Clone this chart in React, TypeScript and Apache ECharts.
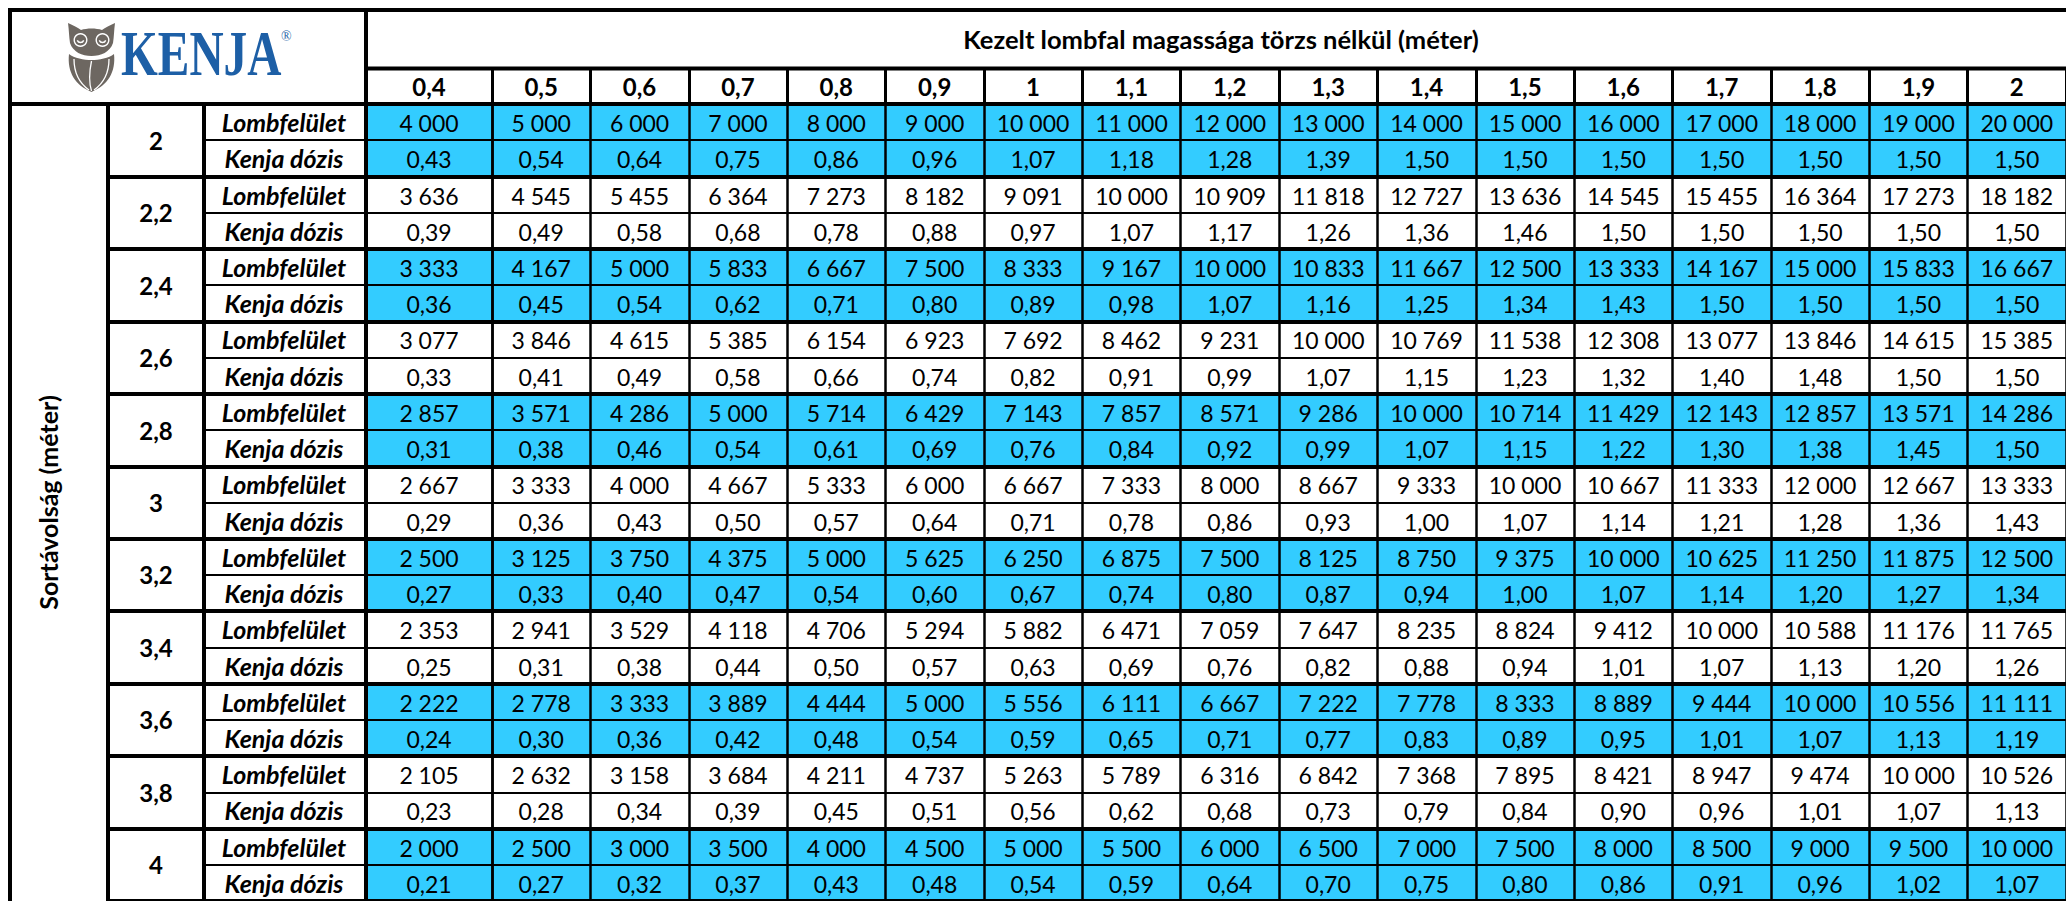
import React, { useEffect, useRef } from 'react';
import * as echarts from 'echarts';

// ---------- data ----------
const heightCategories = ['0,4', '0,5', '0,6', '0,7', '0,8', '0,9', '1', '1,1', '1,2', '1,3', '1,4', '1,5', '1,6', '1,7', '1,8', '1,9', '2'];
const rowSpacings = ['2', '2,2', '2,4', '2,6', '2,8', '3', '3,2', '3,4', '3,6', '3,8', '4'];
const rowLabels = ['Lombfelület', 'Kenja dózis'];
const titleText = 'Kezelt lombfal magassága törzs nélkül (méter)';
const sideTitle = 'Sortávolság (méter)';

const lombfelulet: number[][] = [
  [4000, 5000, 6000, 7000, 8000, 9000, 10000, 11000, 12000, 13000, 14000, 15000, 16000, 17000, 18000, 19000, 20000],
  [3636, 4545, 5455, 6364, 7273, 8182, 9091, 10000, 10909, 11818, 12727, 13636, 14545, 15455, 16364, 17273, 18182],
  [3333, 4167, 5000, 5833, 6667, 7500, 8333, 9167, 10000, 10833, 11667, 12500, 13333, 14167, 15000, 15833, 16667],
  [3077, 3846, 4615, 5385, 6154, 6923, 7692, 8462, 9231, 10000, 10769, 11538, 12308, 13077, 13846, 14615, 15385],
  [2857, 3571, 4286, 5000, 5714, 6429, 7143, 7857, 8571, 9286, 10000, 10714, 11429, 12143, 12857, 13571, 14286],
  [2667, 3333, 4000, 4667, 5333, 6000, 6667, 7333, 8000, 8667, 9333, 10000, 10667, 11333, 12000, 12667, 13333],
  [2500, 3125, 3750, 4375, 5000, 5625, 6250, 6875, 7500, 8125, 8750, 9375, 10000, 10625, 11250, 11875, 12500],
  [2353, 2941, 3529, 4118, 4706, 5294, 5882, 6471, 7059, 7647, 8235, 8824, 9412, 10000, 10588, 11176, 11765],
  [2222, 2778, 3333, 3889, 4444, 5000, 5556, 6111, 6667, 7222, 7778, 8333, 8889, 9444, 10000, 10556, 11111],
  [2105, 2632, 3158, 3684, 4211, 4737, 5263, 5789, 6316, 6842, 7368, 7895, 8421, 8947, 9474, 10000, 10526],
  [2000, 2500, 3000, 3500, 4000, 4500, 5000, 5500, 6000, 6500, 7000, 7500, 8000, 8500, 9000, 9500, 10000],
];

const kenjaDozis: number[][] = [
  [0.43, 0.54, 0.64, 0.75, 0.86, 0.96, 1.07, 1.18, 1.28, 1.39, 1.5, 1.5, 1.5, 1.5, 1.5, 1.5, 1.5],
  [0.39, 0.49, 0.58, 0.68, 0.78, 0.88, 0.97, 1.07, 1.17, 1.26, 1.36, 1.46, 1.5, 1.5, 1.5, 1.5, 1.5],
  [0.36, 0.45, 0.54, 0.62, 0.71, 0.8, 0.89, 0.98, 1.07, 1.16, 1.25, 1.34, 1.43, 1.5, 1.5, 1.5, 1.5],
  [0.33, 0.41, 0.49, 0.58, 0.66, 0.74, 0.82, 0.91, 0.99, 1.07, 1.15, 1.23, 1.32, 1.4, 1.48, 1.5, 1.5],
  [0.31, 0.38, 0.46, 0.54, 0.61, 0.69, 0.76, 0.84, 0.92, 0.99, 1.07, 1.15, 1.22, 1.3, 1.38, 1.45, 1.5],
  [0.29, 0.36, 0.43, 0.5, 0.57, 0.64, 0.71, 0.78, 0.86, 0.93, 1.0, 1.07, 1.14, 1.21, 1.28, 1.36, 1.43],
  [0.27, 0.33, 0.4, 0.47, 0.54, 0.6, 0.67, 0.74, 0.8, 0.87, 0.94, 1.0, 1.07, 1.14, 1.2, 1.27, 1.34],
  [0.25, 0.31, 0.38, 0.44, 0.5, 0.57, 0.63, 0.69, 0.76, 0.82, 0.88, 0.94, 1.01, 1.07, 1.13, 1.2, 1.26],
  [0.24, 0.3, 0.36, 0.42, 0.48, 0.54, 0.59, 0.65, 0.71, 0.77, 0.83, 0.89, 0.95, 1.01, 1.07, 1.13, 1.19],
  [0.23, 0.28, 0.34, 0.39, 0.45, 0.51, 0.56, 0.62, 0.68, 0.73, 0.79, 0.84, 0.9, 0.96, 1.01, 1.07, 1.13],
  [0.21, 0.27, 0.32, 0.37, 0.43, 0.48, 0.54, 0.59, 0.64, 0.7, 0.75, 0.8, 0.86, 0.91, 0.96, 1.02, 1.07],
];

// ---------- styles ----------
const BLUE = '#33CCFF';
const FONT = 'Lato';
const OWL = '#6d6761';
const KENJA_BLUE = '#1d5fa6';

// owl logo shapes
echarts.graphic.registerShape(
  'owlHead',
  echarts.graphic.extendPath(
    'M0 0 C5 2 10 5 13 7 C19 5 28 5 34 7 C37 5 42 2 47 0 C46 7 46 14 45 20 C42 29 33 33 23.5 33 C14 33 5 29 2 20 C1 14 1 7 0 0 Z',
    {}
  )
);
echarts.graphic.registerShape(
  'owlBody',
  echarts.graphic.extendPath(
    'M1 31 C6 35 16 37 23.5 37 C31 37 41 35 46 31 C48 49 40 62 23.5 69 C7 62 -1 49 1 31 Z',
    {}
  )
);

function fmtInt(n: number): string {
  return String(n).replace(/\B(?=(\d{3})+(?!\d))/g, ' ');
}
function fmtDec(v: number): string {
  return v.toFixed(2).replace('.', ',');
}

const subRowKeys: string[] = [];
rowSpacings.forEach((g) => rowLabels.forEach((l) => subRowKeys.push(g + '|' + l)));

function buildCells(colStart: number, colEnd: number) {
  const data: { value: [number, number] }[] = [];
  const texts: string[] = [];
  const blue: boolean[] = [];
  for (let g = 0; g < rowSpacings.length; g++) {
    for (let c = colStart; c < colEnd; c++) {
      data.push({ value: [c - colStart, g * 2] });
      texts.push(fmtInt(lombfelulet[g][c]));
      blue.push(g % 2 === 0);
      data.push({ value: [c - colStart, g * 2 + 1] });
      texts.push(fmtDec(kenjaDozis[g][c]));
      blue.push(g % 2 === 0);
    }
  }
  return { data, texts, blue };
}

function cellSeries(xAxisIndex: number, yAxisIndex: number, cells: ReturnType<typeof buildCells>) {
  return {
    type: 'custom',
    xAxisIndex,
    yAxisIndex,
    z: 2,
    encode: { x: 0, y: 1 },
    data: cells.data,
    renderItem: (params: any, api: any) => {
      const c = api.coord([api.value(0), api.value(1)]);
      const s = api.size([1, 1]);
      const i = params.dataIndex;
      return {
        type: 'rect',
        shape: { x: c[0] - s[0] / 2, y: c[1] - s[1] / 2, width: s[0], height: s[1] },
        style: { fill: cells.blue[i] ? BLUE : '#ffffff' },
        textContent: {
          style: {
            text: cells.texts[i],
            fill: '#000',
            fontSize: 23,
            fontFamily: FONT,
          },
        },
        textConfig: { position: 'inside', offset: [0, 1] },
      };
    },
  };
}

const TOP = 104;
const GRID_H = 800;
const LEFT_A = 366;
const W_A = 126;
const LEFT_B = 492;
const W_B = 1584;

function xAxisCfg(gridIndex: number, data: string[]) {
  return {
    type: 'category',
    gridIndex,
    position: 'top',
    data,
    z: 5,
    axisLine: { show: true, lineStyle: { color: '#000', width: 4 } },
    axisTick: { show: true, length: 36, interval: 0, lineStyle: { color: '#000', width: 3 } },
    axisLabel: {
      show: true,
      interval: 0,
      margin: 18,
      verticalAlign: 'middle',
      color: '#000',
      fontFamily: FONT,
      fontWeight: 'bold',
      fontSize: 24,
    },
    splitLine: { show: true, interval: 0, lineStyle: { color: '#000', width: 2.5 } },
  };
}

function hiddenY(gridIndex: number, data: string[], width: number) {
  return {
    type: 'category',
    gridIndex,
    position: 'left',
    inverse: true,
    data,
    z: 5,
    axisLine: { show: false },
    axisTick: { show: false },
    axisLabel: { show: false },
    splitLine: { show: true, interval: 0, lineStyle: { color: '#000', width } },
  };
}

export default function App() {
  const ref = useRef<HTMLDivElement>(null);

  useEffect(() => {
    if (!ref.current) return;
    const chart = echarts.init(ref.current, null, { renderer: 'svg' });
    const cellsA = buildCells(0, 1);
    const cellsB = buildCells(1, heightCategories.length);

    const option: any = {
      animation: false,
      backgroundColor: '#ffffff',
      grid: [
        { left: LEFT_A, top: TOP, width: W_A, height: GRID_H, containLabel: false },
        { left: LEFT_B, top: TOP, width: W_B, height: GRID_H, containLabel: false },
      ],
      xAxis: [xAxisCfg(0, heightCategories.slice(0, 1)), xAxisCfg(1, heightCategories.slice(1))],
      yAxis: [
        // 0: row labels (Lombfelület / Kenja dózis)
        {
          type: 'category',
          gridIndex: 0,
          position: 'left',
          offset: 0,
          inverse: true,
          data: subRowKeys,
          z: 5,
          axisLine: { show: true, lineStyle: { color: '#000', width: 4 } },
          axisTick: { show: true, interval: 0, length: 162, lineStyle: { color: '#000', width: 2 } },
          axisLabel: {
            show: true,
            interval: 0,
            margin: 82,
            align: 'center',
            color: '#000',
            fontFamily: FONT,
            fontWeight: 'bold',
            fontStyle: 'italic',
            fontSize: 25,
            formatter: (_v: string, idx: number) => rowLabels[idx % rowLabels.length],
          },
          splitLine: { show: true, interval: 0, lineStyle: { color: '#000', width: 2 } },
        },
        // 1: row spacing groups
        {
          type: 'category',
          gridIndex: 0,
          position: 'left',
          offset: 0,
          inverse: true,
          data: rowSpacings,
          z: 6,
          axisLine: { show: false },
          axisTick: { show: true, interval: 0, length: 258, lineStyle: { color: '#000', width: 4 } },
          axisLabel: {
            show: true,
            interval: 0,
            margin: 210,
            align: 'center',
            color: '#000',
            fontFamily: FONT,
            fontWeight: 'bold',
            fontSize: 24,
          },
          splitLine: { show: true, interval: 0, lineStyle: { color: '#000', width: 4 } },
        },
        // 2: divider between group labels and row labels
        {
          type: 'category',
          gridIndex: 0,
          position: 'left',
          inverse: true,
          data: rowSpacings,
          offset: 162,
          z: 6,
          axisLine: { show: true, lineStyle: { color: '#000', width: 4 } },
          axisTick: { show: false },
          axisLabel: { show: false },
          splitLine: { show: false },
        },
        // 3: divider left of group labels, carries the side title
        {
          type: 'category',
          gridIndex: 0,
          position: 'left',
          inverse: true,
          data: rowSpacings,
          offset: 258,
          z: 6,
          name: sideTitle,
          nameLocation: 'middle',
          nameRotate: 90,
          nameGap: 48,
          nameTextStyle: { color: '#000', fontFamily: FONT, fontWeight: 'bold', fontSize: 25 },
          axisLine: { show: true, lineStyle: { color: '#000', width: 4 } },
          axisTick: { show: false },
          axisLabel: { show: false },
          splitLine: { show: false },
        },
        // 4, 5: grid B
        hiddenY(1, subRowKeys, 2),
        hiddenY(1, rowSpacings, 4),
      ],
      series: [cellSeries(0, 0, cellsA), cellSeries(1, 4, cellsB)],
      graphic: [
        { type: 'line', shape: { x1: 8, y1: 10, x2: 2080, y2: 10 }, style: { stroke: '#000', lineWidth: 4 } },
        { type: 'line', shape: { x1: 10, y1: 8, x2: 10, y2: 910 }, style: { stroke: '#000', lineWidth: 4 } },
        { type: 'line', shape: { x1: 366, y1: 8, x2: 366, y2: 106 }, style: { stroke: '#000', lineWidth: 4 } },
        { type: 'line', shape: { x1: 364, y1: 68.5, x2: 2080, y2: 68.5 }, style: { stroke: '#000', lineWidth: 4 } },
        { type: 'line', shape: { x1: 8, y1: 104, x2: 368, y2: 104 }, style: { stroke: '#000', lineWidth: 4 } },
        {
          type: 'text',
          x: 1221,
          y: 39,
          style: {
            text: titleText,
            fill: '#000',
            fontFamily: FONT,
            fontWeight: 'bold',
            fontSize: 25.5,
            align: 'center',
            verticalAlign: 'middle',
            textAlign: 'center',
            textVerticalAlign: 'middle',
          },
        },
        // logo
        {
          type: 'group',
          x: 68,
          y: 23,
          children: [
            { type: 'owlHead', x: 0, y: 0, style: { fill: OWL } },
            { type: 'owlBody', x: 0, y: 0, style: { fill: OWL } },
            { type: 'ring', shape: { cx: 12.5, cy: 17, r: 7, r0: 5.6 }, style: { fill: '#ffffff' } },
            { type: 'ring', shape: { cx: 34.5, cy: 17, r: 7, r0: 5.6 }, style: { fill: '#ffffff' } },
            { type: 'arc', shape: { cx: 12.5, cy: 16, r: 3.5, startAngle: 0.4, endAngle: Math.PI - 0.4, clockwise: true }, style: { stroke: '#ffffff', lineWidth: 1.4, fill: 'none' } },
            { type: 'arc', shape: { cx: 34.5, cy: 16, r: 3.5, startAngle: 0.4, endAngle: Math.PI - 0.4, clockwise: true }, style: { stroke: '#ffffff', lineWidth: 1.4, fill: 'none' } },
            { type: 'bezierCurve', shape: { x1: 23.5, y1: 38, cpx1: 21, cpy1: 50, cpx2: 21, cpy2: 60, x2: 23.5, y2: 68 }, style: { stroke: '#ffffff', lineWidth: 1.3, fill: 'none' } },
            { type: 'bezierCurve', shape: { x1: 6, y1: 36, cpx1: 6, cpy1: 52, cpx2: 14, cpy2: 62, x2: 21, y2: 67 }, style: { stroke: '#ffffff', lineWidth: 1.3, fill: 'none' } },
            { type: 'bezierCurve', shape: { x1: 41, y1: 36, cpx1: 41, cpy1: 52, cpx2: 33, cpy2: 62, x2: 26, y2: 67 }, style: { stroke: '#ffffff', lineWidth: 1.3, fill: 'none' } },
          ],
        },
        {
          type: 'text',
          x: 121,
          y: 53,
          scaleX: 0.74,
          style: {
            text: 'KENJA',
            fill: KENJA_BLUE,
            fontFamily: 'Liberation Serif',
            fontWeight: 'bold',
            fontSize: 64,
            align: 'left',
            verticalAlign: 'middle',
            textAlign: 'left',
            textVerticalAlign: 'middle',
          },
        },
        {
          type: 'text',
          x: 281,
          y: 36,
          style: {
            text: '®',
            fill: KENJA_BLUE,
            fontFamily: 'Liberation Serif',
            fontSize: 14,
            align: 'left',
            verticalAlign: 'middle',
            textAlign: 'left',
            textVerticalAlign: 'middle',
          },
        },
      ],
    };

    chart.setOption(option);
    return () => {
      chart.dispose();
    };
  }, []);

  return (
    <div
      ref={ref}
      style={{ position: 'fixed', left: 0, top: 0, width: 2066, height: 901, overflow: 'hidden', background: '#fff' }}
    />
  );
}
